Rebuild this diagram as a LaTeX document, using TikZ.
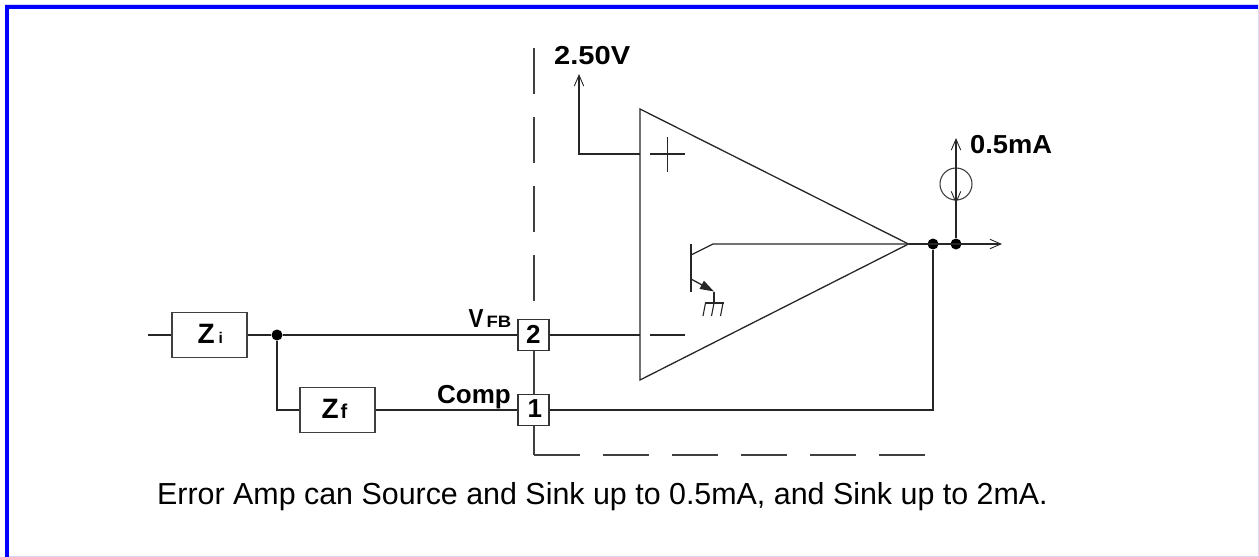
\documentclass[tikz,border=0pt]{standalone}
\usepackage{fontspec}
\setmainfont{Liberation Sans}
\newfontfamily\labfont{Liberation Sans Bold}
\newfontfamily\labwide[FakeStretch=1.12]{Liberation Sans Bold}
\newfontfamily\labmid[FakeStretch=1.05]{Liberation Sans Bold}
\newfontfamily\labnarrow[FakeStretch=0.86]{Liberation Sans Bold}
\usetikzlibrary{arrows.meta}
\definecolor{frameblue}{RGB}{0,0,255}
\definecolor{framelav}{RGB}{218,214,246}
\tikzset{
  x=1pt,y=-1pt,
  wire/.style={line width=1.3pt,draw=black!85},
  thin wire/.style={line width=1.1pt,draw=black!85},
  dashwire/.style={line width=1.3pt,draw=black!75},
  barb/.style={-{Straight Barb[length=11pt,width=9.5pt,line width=.9pt]}},
  zbox/.style={draw=black!75,line width=1.3pt,fill=white,minimum width=75pt,minimum height=45pt,inner sep=0pt},
  pin/.style={draw=black!80,line width=1.3pt,fill=white,minimum width=31pt,minimum height=31pt,inner sep=0pt},
  dot/.style={circle,fill=black,minimum size=11pt,inner sep=0pt},
  lab/.style={inner sep=0pt,anchor=base west,font=\labfont\fontsize{26}{26}\selectfont},
  sublab/.style={inner sep=0pt,anchor=base west,font=\labwide\fontsize{16.5}{16.5}\selectfont},
  caption/.style={inner sep=0pt,anchor=base west,font=\fontsize{30.4}{30.4}\selectfont},
  source/.style={circle,draw=black!75,line width=1.1pt,minimum size=32pt,inner sep=0pt},
}
\begin{document}
\begin{tikzpicture}
\useasboundingbox (0,0) rectangle (1259,557);
% frame
\fill[framelav] (5,4) rectangle (1259,5);
\fill[framelav] (1257.6,4) rectangle (1259,557);
\fill[framelav] (5,555.6) rectangle (1259,557);
\fill[frameblue] (5,5) rectangle (1257.6,9);
\fill[frameblue] (5,5) rectangle (9,557);
% named points
\coordinate (dashTop) at (534,48);
\coordinate (corner) at (534,455);
\coordinate (triA) at (640,109);
\coordinate (triB) at (640,380);
\coordinate (triT) at (908.5,244);
\coordinate (plusIn) at (640,154);
\coordinate (minusIn) at (640,335);
\coordinate (refEnd) at (579,74);
\coordinate (refBend) at (579,154);
\coordinate (outEnd) at (1002,244);
\coordinate (inStart) at (148,335);
\coordinate (srcTop) at (956,138);
\coordinate (bend1) at (933,410);
% nodes
\node[zbox] (zi) at (209.5,335) {};
\node[zbox] (zf) at (337.5,410) {};
\node[dot] (j1) at (277,335) {};
\node[dot] (j2) at (933,244) {};
\node[dot] (j3) at (956,244) {};
\node[source] (src) at (956,184) {};
% amplifier
\draw[wire,line join=miter] (triA) -- (triT) -- (triB) -- cycle;
% dashed boundary
\draw[dashwire,dash pattern=on 45.5pt off 23.5pt] (dashTop) -- (534,319);
\draw[dashwire] (534,350) -- (534,395);
\draw[dashwire] (534,426) -- (corner);
\draw[dashwire,dash pattern=on 45.5pt off 23.5pt] (corner) -- (926,455);
% wires
\draw[wire] (inStart) -- (zi.west);
\draw[wire] (zi.east) -- (j1);
\draw[wire] (j1) -- (minusIn);
\draw[wire] (j1) |- (zf.west);
\draw[wire] (zf.east) -- (bend1) -- (j2);
\draw[wire,barb] (plusIn) -- (refBend) -- (refEnd);
\draw[wire,barb] (triT) -- (outEnd);
\draw[wire] (j3) -- (src.south);
\draw[wire,barb] (src.north) -- (srcTop);
\draw[thin wire,barb] (src.north) -- ([yshift=-3pt]src.south);
% pins
\node[pin] (p2) at (533.5,335) {};
\node[pin] (p1) at (533.5,410) {};
% + and -
\draw[thin wire] (650,154) -- (685,154) (667.5,137) -- (667.5,172);
\draw[thin wire] (650,335) -- (685,335);
% transistor
\coordinate (qTop) at (691,244);
\coordinate (qBot) at (691,292);
\coordinate (qC) at (691,255);
\coordinate (qC2) at (713,244);
\coordinate (qE) at (691,279);
\coordinate (qE2) at (714,291.5);
\coordinate (gnd) at (714,303);
\draw[wire] (qTop) -- (qBot);
\draw[wire] (qC) -- (qC2) -- (triT);
\draw[wire,-{Triangle[length=14pt,width=9pt]}] (qE) -- (qE2);
\draw[wire] (qE2) -- (gnd);
\draw[thin wire] (705,303) -- (724,303);
\draw[thin wire] (705.5,303) -- (703,316) (714,303) -- (711.5,316) (723,303) -- (720.5,316);
% labels
\node[lab,font=\labwide\fontsize{26}{26}\selectfont] (t250) at (554,64) {2.50V};
\node[lab,font=\labmid\fontsize{26}{26}\selectfont] (t05) at (970,153) {0.5mA};
\node[lab,font=\labnarrow\fontsize{26}{26}\selectfont] (tV) at (468.5,327) {V};
\node[sublab] (tFB) at (486.5,327.5) {FB};
\node[lab] (tComp) at (437,403) {Comp};
\node[lab] (t2) at (526,343) {2};
\node[lab] (t1) at (527.5,417.5) {1};
\node[lab,font=\labfont\fontsize{28}{28}\selectfont] (tZi) at (197.5,343) {Z};
\node[sublab,font=\labfont\fontsize{15.5}{15.5}\selectfont] (tZii) at (218.5,343) {i};
\node[lab,font=\labfont\fontsize{28}{28}\selectfont] (tZf) at (321.5,418) {Z};
\node[sublab,font=\labfont\fontsize{20}{20}\selectfont] (tZff) at (340.5,418) {f};
\node[caption] (cap) at (157,504) {Error Amp can Source and Sink up to 0.5mA, and Sink up to 2mA.};
\end{tikzpicture}
\end{document}
